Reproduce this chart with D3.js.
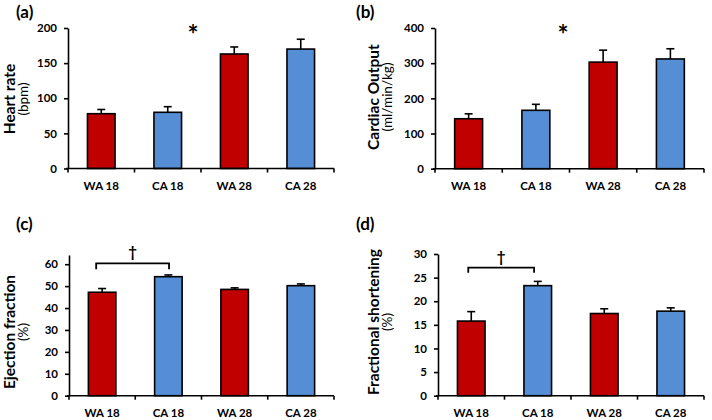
<!DOCTYPE html>
<html>
<head>
<meta charset="utf-8">
<script src="https://cdn.jsdelivr.net/npm/d3@7"></script>
<style>
  html, body { margin: 0; padding: 0; background: #fff; }
  svg { display: block; }
  text { font-family: Lato, "Open Sans", sans-serif; fill: #000; }
</style>
</head>
<body>
<svg id="chart" width="712" height="420"></svg>
<script>
// ---- data ----
const categories = ["WA 18", "CA 18", "WA 28", "CA 28"];
const heartRate = [78, 80, 163, 170];
const heartRateErr = [6, 8, 10, 14];
const cardiacOutput = [142, 166, 303, 312];
const cardiacOutputErr = [14, 17, 34, 29];
const ejectionFraction = [47.2, 54.3, 48.5, 50.2];
const ejectionFractionErr = [1.7, 0.8, 0.7, 0.8];
const fractionalShortening = [15.8, 23.3, 17.4, 17.9];
const fractionalShorteningErr = [2.0, 0.9, 1.0, 0.7];
const heartRateTicks = [0, 50, 100, 150, 200];
const cardiacOutputTicks = [0, 100, 200, 300, 400];
const ejectionFractionTicks = [0, 10, 20, 30, 40, 50, 60];
const fractionalShorteningTicks = [0, 5, 10, 15, 20, 25, 30];
const barColors = { WA: "#C00000", CA: "#558ED5" };

// ---- layout ----
const panels = [
  { tag: "(a)", tagX: 16, tagY: 18, title: "Heart rate", unit: "(bpm)", titleX: 15, unitX: 28, titleY: 99,
    x0: 68, x1: 334, yBase: 168.5, yTop: 28, max: 200, ticks: heartRateTicks,
    values: heartRate, errs: heartRateErr,
    star: { x: 193, y: 44 } },
  { tag: "(b)", tagX: 356, tagY: 18, title: "Cardiac Output", unit: "(ml/min/kg)", titleX: 379, unitX: 392, titleY: 97,
    x0: 435, x1: 704, yBase: 168.7, yTop: 28, max: 400, ticks: cardiacOutputTicks,
    values: cardiacOutput, errs: cardiacOutputErr,
    star: { x: 563, y: 44 } },
  { tag: "(c)", tagX: 16, tagY: 230, title: "Ejection fraction", unit: "(%)", titleX: 15, unitX: 28, titleY: 332,
    x0: 69, x1: 334, yBase: 395.7, yTop: 255, max: 64.2, ticks: ejectionFractionTicks,
    values: ejectionFraction, errs: ejectionFractionErr,
    bracket: { y: 263.3, leg: 6, f0: 0.41, f1: 0.51, daggerY: 257 } },
  { tag: "(d)", tagX: 356, tagY: 230, title: "Fractional shortening", unit: "(%)", titleX: 379, unitX: 392, titleY: 322,
    x0: 438, x1: 704, yBase: 395.7, yTop: 254, max: 30, ticks: fractionalShorteningTicks,
    values: fractionalShortening, errs: fractionalShorteningErr,
    bracket: { y: 267.7, leg: 5, f0: 0.455, f1: 0.445, daggerY: 262 } }
];

const svg = d3.select("#chart");

panels.forEach(p => {
  const g = svg.append("g");
  const x = d3.scaleBand().domain(categories).range([p.x0, p.x1]).padding(0);
  const y = d3.scaleLinear().domain([0, p.max]).range([p.yBase, p.yTop]);
  const bw = x.bandwidth() * 0.415;

  // panel tag
  g.append("text").attr("x", p.tagX).attr("y", p.tagY)
    .attr("font-size", 17).attr("font-weight", "bold").text(p.tag);

  // y titles
  g.append("text")
    .attr("transform", `translate(${p.titleX},${p.titleY}) rotate(-90)`)
    .attr("text-anchor", "middle").attr("font-size", 15.5).attr("font-weight", "bold")
    .text(p.title);
  g.append("text")
    .attr("transform", `translate(${p.unitX},${p.titleY}) rotate(-90)`)
    .attr("text-anchor", "middle").attr("font-size", 13.5)
    .text(p.unit);

  // bars
  const data = categories.map((c, i) => ({ c, v: p.values[i], e: p.errs[i] }));
  g.selectAll("rect.bar").data(data).join("rect")
    .attr("class", "bar")
    .attr("x", d => x(d.c) + (x.bandwidth() - bw) / 2)
    .attr("y", d => y(d.v))
    .attr("width", bw)
    .attr("height", d => y(0) - y(d.v))
    .attr("fill", d => d.c.startsWith("WA") ? barColors.WA : barColors.CA)
    .attr("stroke", "#000").attr("stroke-width", 1.6);

  // error bars (upper only)
  const eb = g.selectAll("g.err").data(data).join("g").attr("class", "err")
    .attr("stroke", "#000").attr("stroke-width", 1.6);
  eb.append("line")
    .attr("x1", d => x(d.c) + x.bandwidth() / 2).attr("x2", d => x(d.c) + x.bandwidth() / 2)
    .attr("y1", d => y(d.v)).attr("y2", d => y(d.v + d.e));
  eb.append("line")
    .attr("x1", d => x(d.c) + x.bandwidth() / 2 - 4).attr("x2", d => x(d.c) + x.bandwidth() / 2 + 4)
    .attr("y1", d => y(d.v + d.e)).attr("y2", d => y(d.v + d.e));

  // y axis
  const ya = g.append("g").attr("transform", `translate(${p.x0},0)`)
    .call(d3.axisLeft(y).tickValues(p.ticks).tickSize(4).tickSizeOuter(0).tickPadding(7));
  ya.select(".domain").attr("stroke-width", 1.6);
  ya.selectAll(".tick line").attr("stroke-width", 1.6);
  ya.selectAll(".tick text").attr("font-family", "Lato, sans-serif")
    .attr("font-size", 11.5).attr("font-weight", "bold").attr("fill", "#000");

  // x axis
  g.append("line").attr("x1", p.x0 - 2).attr("x2", p.x1)
    .attr("y1", y(0)).attr("y2", y(0)).attr("stroke", "#000").attr("stroke-width", 1.6);
  const bounds = categories.map(c => x(c)).concat([p.x1]);
  g.selectAll("line.xt").data(bounds).join("line").attr("class", "xt")
    .attr("x1", d => d).attr("x2", d => d)
    .attr("y1", y(0)).attr("y2", y(0) + 4)
    .attr("stroke", "#000").attr("stroke-width", 1.6);
  g.selectAll("text.xl").data(categories).join("text").attr("class", "xl")
    .attr("x", d => x(d) + x.bandwidth() / 2).attr("y", y(0) + 21.5)
    .attr("text-anchor", "middle").attr("font-size", 11.5).attr("font-weight", "bold")
    .text(d => d);

  // significance markers
  if (p.star) {
    g.append("text").attr("x", p.star.x).attr("y", p.star.y)
      .attr("text-anchor", "middle").attr("font-size", 26).attr("font-weight", "bold").text("*");
  }
  if (p.bracket) {
    const b = p.bracket;
    const bx0 = x(categories[0]) + x.bandwidth() * b.f0;
    const bx1 = x(categories[1]) + x.bandwidth() * b.f1;
    g.append("path")
      .attr("d", `M${bx0},${b.y + b.leg}V${b.y}H${bx1}V${b.y + b.leg}`)
      .attr("fill", "none").attr("stroke", "#000").attr("stroke-width", 1.8);
    g.append("text").attr("x", (bx0 + bx1) / 2).attr("y", b.daggerY)
      .attr("text-anchor", "middle").attr("font-size", 15).attr("font-weight", "bold").text("†");
  }
});
</script>
</body>
</html>
